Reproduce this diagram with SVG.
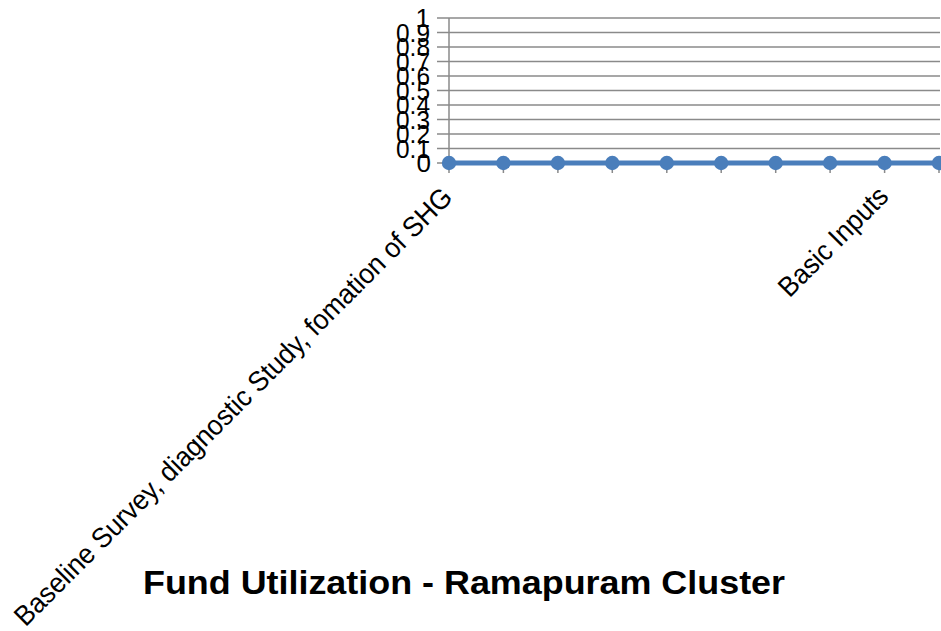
<svg xmlns="http://www.w3.org/2000/svg" width="941" height="631" viewBox="0 0 941 631">
  <style>
    .grid { stroke: #8a8a8a; stroke-width: 1.5; fill: none; }
    .axis { stroke: #8a8a8a; stroke-width: 1.5; fill: none; }
    .ylab { font-family: "Liberation Sans", Arial, sans-serif; font-size: 26px; fill: #000; text-anchor: end; }
    .xlab { font-family: "Liberation Sans", Arial, sans-serif; font-size: 28px; fill: #000; text-anchor: end; }
    .title { font-family: "Liberation Sans", Arial, sans-serif; font-size: 33px; font-weight: bold; fill: #000; }
    .series { stroke: #4a7ebb; stroke-width: 5; fill: none; }
    .dot { fill: #4a7ebb; }
  </style>

  <rect width="941" height="631" fill="#ffffff"/>

  <!-- horizontal gridlines, 0 to 1 in steps of 0.1 -->
  <g id="gridlines">
    <line class="grid" x1="437" y1="18" x2="940" y2="18"/>
    <line class="grid" x1="437" y1="32.5" x2="940" y2="32.5"/>
    <line class="grid" x1="437" y1="47" x2="940" y2="47"/>
    <line class="grid" x1="437" y1="61.5" x2="940" y2="61.5"/>
    <line class="grid" x1="437" y1="76" x2="940" y2="76"/>
    <line class="grid" x1="437" y1="90.5" x2="940" y2="90.5"/>
    <line class="grid" x1="437" y1="105" x2="940" y2="105"/>
    <line class="grid" x1="437" y1="119.5" x2="940" y2="119.5"/>
    <line class="grid" x1="437" y1="134" x2="940" y2="134"/>
    <line class="grid" x1="437" y1="148.5" x2="940" y2="148.5"/>
    <line class="grid" x1="437" y1="163" x2="940" y2="163"/>
  </g>

  <!-- axes and category tick marks -->
  <g id="axes">
    <line class="axis" x1="449" y1="18" x2="449" y2="173"/>
    <line class="axis" x1="503.4" y1="163" x2="503.4" y2="173"/>
    <line class="axis" x1="557.9" y1="163" x2="557.9" y2="173"/>
    <line class="axis" x1="612.3" y1="163" x2="612.3" y2="173"/>
    <line class="axis" x1="666.8" y1="163" x2="666.8" y2="173"/>
    <line class="axis" x1="721.2" y1="163" x2="721.2" y2="173"/>
    <line class="axis" x1="775.7" y1="163" x2="775.7" y2="173"/>
    <line class="axis" x1="830.1" y1="163" x2="830.1" y2="173"/>
    <line class="axis" x1="884.6" y1="163" x2="884.6" y2="173"/>
    <line class="axis" x1="939" y1="163" x2="939" y2="173"/>
  </g>

  <!-- value axis labels -->
  <g id="y-labels">
    <text class="ylab" x="430" y="27">1</text>
    <text class="ylab" x="430" y="41.5" textLength="34" lengthAdjust="spacingAndGlyphs">0.9</text>
    <text class="ylab" x="430" y="56" textLength="34" lengthAdjust="spacingAndGlyphs">0.8</text>
    <text class="ylab" x="430" y="70.5" textLength="34" lengthAdjust="spacingAndGlyphs">0.7</text>
    <text class="ylab" x="430" y="85" textLength="34" lengthAdjust="spacingAndGlyphs">0.6</text>
    <text class="ylab" x="430" y="99.5" textLength="34" lengthAdjust="spacingAndGlyphs">0.5</text>
    <text class="ylab" x="430" y="114" textLength="34" lengthAdjust="spacingAndGlyphs">0.4</text>
    <text class="ylab" x="430" y="128.5" textLength="34" lengthAdjust="spacingAndGlyphs">0.3</text>
    <text class="ylab" x="430" y="143" textLength="34" lengthAdjust="spacingAndGlyphs">0.2</text>
    <text class="ylab" x="430" y="157.5" textLength="34" lengthAdjust="spacingAndGlyphs">0.1</text>
    <text class="ylab" x="431" y="172">0</text>
  </g>

  <!-- data series: all values zero -->
  <g id="series">
    <line class="series" x1="449" y1="163" x2="939" y2="163"/>
    <circle class="dot" cx="449" cy="163" r="7.2"/>
    <circle class="dot" cx="503.4" cy="163" r="7.2"/>
    <circle class="dot" cx="557.9" cy="163" r="7.2"/>
    <circle class="dot" cx="612.3" cy="163" r="7.2"/>
    <circle class="dot" cx="666.8" cy="163" r="7.2"/>
    <circle class="dot" cx="721.2" cy="163" r="7.2"/>
    <circle class="dot" cx="775.7" cy="163" r="7.2"/>
    <circle class="dot" cx="830.1" cy="163" r="7.2"/>
    <circle class="dot" cx="884.6" cy="163" r="7.2"/>
    <circle class="dot" cx="939" cy="163" r="7.2"/>
  </g>

  <!-- category labels, rotated -->
  <g id="x-labels">
    <text class="xlab" transform="translate(454,199) rotate(-45)" textLength="606" lengthAdjust="spacingAndGlyphs">Baseline Survey, diagnostic Study, fomation of SHG</text>
    <text class="xlab" transform="translate(890,198) rotate(-45)" textLength="142" lengthAdjust="spacingAndGlyphs">Basic Inputs</text>
  </g>

  <g id="title">
    <text class="title" x="143" y="594" textLength="642" lengthAdjust="spacingAndGlyphs">Fund Utilization - Ramapuram Cluster</text>
  </g>
</svg>
